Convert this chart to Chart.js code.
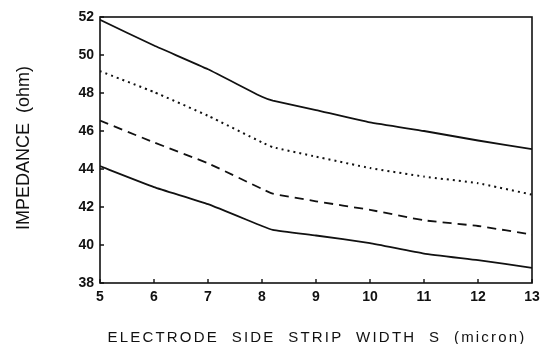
<!DOCTYPE html>
<html>
<head>
<meta charset="utf-8">
<script src="https://cdn.jsdelivr.net/npm/chart.js@4.4.1/dist/chart.umd.min.js"></script>
<style>
  html, body { margin: 0; padding: 0; background: #fff; }
  #wrap { width: 553px; height: 344px; position: relative; }
</style>
</head>
<body>
<div id="wrap"><canvas id="c"></canvas></div>
<script>
// strip width S (micron)
const widths = [5, 6, 7, 8, 8.2, 9, 10, 11, 12, 13];
// impedance (ohm), top to bottom curve
const solidTop = [51.85, 50.5, 49.25, 47.8, 47.6, 47.1, 46.45, 46.0, 45.5, 45.05];
const dotted = [49.15, 48.05, 46.8, 45.4, 45.15, 44.65, 44.05, 43.6, 43.25, 42.65];
const dashed = [46.55, 45.4, 44.3, 42.95, 42.7, 42.3, 41.85, 41.3, 41.0, 40.55];
const solidBottom = [44.15, 43.05, 42.15, 41.0, 40.8, 40.5, 40.1, 39.55, 39.2, 38.8];

const xTicks = [5, 6, 7, 8, 9, 10, 11, 12, 13];
const yTicks = [38, 40, 42, 44, 46, 48, 50, 52];

const xTitle = "ELECTRODE  SIDE  STRIP  WIDTH  S  (micron)";
const yTitle = "IMPEDANCE  (ohm)";

const pts = (ys) => widths.map((x, i) => ({ x, y: ys[i] }));
const ink = "#111";

function line(data, dash) {
  return {
    data: pts(data),
    borderColor: ink,
    borderWidth: dash && dash[0] < 3 ? 2 : 1.8,
    borderDash: dash || [],
    pointRadius: 0,
    tension: 0.12,
    fill: false,
  };
}

// box round the plot, short inward ticks, axis titles
const frame = {
  id: "frame",
  afterDraw(chart) {
    const { ctx, chartArea: a, scales } = chart;
    ctx.save();
    ctx.strokeStyle = ink;
    ctx.lineWidth = 1.6;
    ctx.strokeRect(a.left, a.top, a.right - a.left, a.bottom - a.top);
    ctx.lineWidth = 1.4;
    ctx.beginPath();
    yTicks.forEach((v) => {
      const y = scales.y.getPixelForValue(v);
      ctx.moveTo(a.left, y);
      ctx.lineTo(a.left + 4, y);
    });
    xTicks.forEach((v) => {
      const x = scales.x.getPixelForValue(v);
      ctx.moveTo(x, a.bottom);
      ctx.lineTo(x, a.bottom - 4);
    });
    ctx.stroke();

    ctx.fillStyle = ink;
    ctx.textAlign = "center";
    ctx.textBaseline = "alphabetic";
    ctx.font = "15px 'Liberation Sans'";
    ctx.letterSpacing = "2.2px";
    ctx.fillText(xTitle, 317, 342);

    ctx.letterSpacing = "0px";
    ctx.font = "18px 'Liberation Sans'";
    ctx.translate(29, 148);
    ctx.rotate(-Math.PI / 2);
    ctx.fillText(yTitle, 0, 0);
    ctx.restore();
  },
};

new Chart(document.getElementById("c"), {
  type: "line",
  data: {
    datasets: [
      line(solidTop),
      line(dotted, [2, 4]),
      line(dashed, [9, 6]),
      line(solidBottom),
    ],
  },
  options: {
    responsive: true,
    maintainAspectRatio: false,
    animation: false,
    layout: { padding: { left: 0, right: 21, top: 17, bottom: 0 } },
    plugins: { legend: { display: false }, tooltip: { enabled: false } },
    scales: {
      x: {
        type: "linear",
        min: 5,
        max: 13,
        afterFit: (s) => { s.height = 61; },
        afterBuildTicks: (s) => { s.ticks = xTicks.map((v) => ({ value: v })); },
        grid: { display: false, drawTicks: false },
        border: { display: false },
        ticks: {
          padding: 6,
          color: ink,
          font: { family: "Liberation Sans", size: 14, weight: "bold" },
        },
      },
      y: {
        min: 38,
        max: 52,
        afterFit: (s) => { s.width = 100; },
        afterBuildTicks: (s) => { s.ticks = yTicks.map((v) => ({ value: v })); },
        grid: { display: false, drawTicks: false },
        border: { display: false },
        ticks: {
          padding: 6,
          color: ink,
          font: { family: "Liberation Sans", size: 14, weight: "bold" },
        },
      },
    },
  },
  plugins: [frame],
});
</script>
</body>
</html>
